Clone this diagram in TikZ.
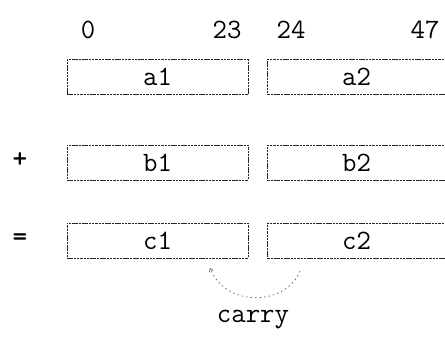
\documentclass[tikz,border=0pt]{standalone}
\usetikzlibrary{arrows.meta}
\begin{document}
\begin{tikzpicture}[x=1pt,y=-1pt,
  regbox/.style={draw=black!85, line width=0.6pt, dash pattern=on 2.5pt off 0.8pt, inner sep=0pt, minimum height=35pt, text depth=0pt},
  lbl/.style={font=\ttfamily\fontsize{28}{32}\selectfont, inner sep=0pt}]
\useasboundingbox (0,0) rectangle (445,352);
\node[lbl] (n0) at (88,30) {0};
\node[lbl] (n23) at (227,30) {23};
\node[lbl] (n24) at (291,30) {24};
\node[lbl] (n47) at (425,30) {47};
\node[regbox, minimum width=181pt] (a1) at (157.5,77) {};
\node[regbox, minimum width=178pt] (a2) at (356.5,77) {};
\node[regbox, minimum width=181pt] (b1) at (157.5,162.5) {};
\node[regbox, minimum width=178pt] (b2) at (356.5,162.5) {};
\node[regbox, minimum width=181pt] (c1) at (157.5,240.5) {};
\node[regbox, minimum width=178pt] (c2) at (356.5,240.5) {};
\node[lbl] (ta1) at (a1.center) {a1};
\node[lbl] (ta2) at (a2.center) {a2};
\node[lbl] (tb1) at (b1.center) {b1};
\node[lbl] (tb2) at (b2.center) {b2};
\node[lbl] (tc1) at (c1.center) {c1};
\node[lbl] (tc2) at (c2.center) {c2};
\node[lbl, font=\ttfamily\bfseries\fontsize{28}{32}\selectfont] (plus) at (20,160) {+};
\node[lbl, font=\ttfamily\bfseries\fontsize{28}{32}\selectfont] (eq) at (20,240) {=};
\node[lbl] (carry) at (253,320) {carry};
\coordinate (cs) at (300,271);
\coordinate (ce) at (210,268);
\draw[black!70, line width=0.6pt, dash pattern=on 1.5pt off 3pt, -{Straight Barb[length=3pt,width=4pt]}]
  (cs) .. controls (286,306) and (226,308) .. (ce);
\end{tikzpicture}
\end{document}
